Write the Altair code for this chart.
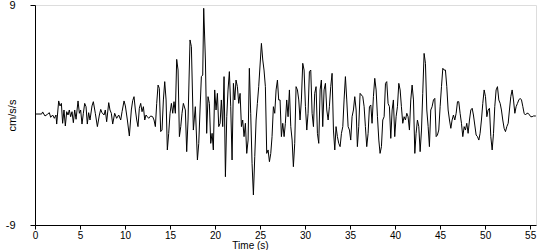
import altair as alt
import pandas as pd

time = [0.00, 0.74, 0.85, 1.11, 1.37, 1.59, 1.74, 1.96, 2.15, 2.33, 2.41, 2.63, 2.78, 2.93, 3.07, 3.22, 3.37, 3.52, 3.67, 3.81,
        3.96, 4.11, 4.26, 4.41, 4.56, 4.78, 4.93, 5.07, 5.22, 5.37, 5.52, 5.67, 5.81, 5.96, 6.11, 6.33, 6.48, 6.70, 6.93, 7.15,
        7.30, 7.44, 7.67, 7.81, 7.96, 8.19, 8.33, 8.48, 8.63, 8.85, 9.07, 9.30, 9.52, 9.67, 9.89, 10.04, 10.26, 10.48, 10.70, 10.85,
        11.00, 11.15, 11.30, 11.44, 11.59, 11.74, 11.89, 12.04, 12.19, 12.33, 12.48, 12.63, 12.85, 13.07, 13.22, 13.37, 13.52, 13.67, 13.81, 13.96,
        14.11, 14.26, 14.41, 14.56, 14.70, 14.85, 15.00, 15.15, 15.30, 15.44, 15.59, 15.74, 15.89, 16.04, 16.19, 16.33, 16.48, 16.70, 16.85, 17.00,
        17.22, 17.37, 17.59, 17.81, 18.04, 18.19, 18.33, 18.48, 18.63, 18.74, 18.93, 19.07, 19.22, 19.37, 19.52, 19.67, 19.81, 19.96, 20.11, 20.26,
        20.41, 20.56, 20.70, 20.85, 21.00, 21.15, 21.30, 21.44, 21.59, 21.74, 21.89, 22.04, 22.19, 22.33, 22.48, 22.63, 22.78, 22.93, 23.07, 23.22,
        23.37, 23.52, 23.67, 23.81, 23.96, 24.11, 24.26, 24.41, 24.56, 24.70, 24.85, 25.00, 25.15, 25.30, 25.44, 25.59, 25.74, 25.89, 26.04, 26.19,
        26.33, 26.48, 26.63, 26.78, 26.93, 27.07, 27.22, 27.37, 27.52, 27.67, 27.81, 27.96, 28.11, 28.26, 28.41, 28.56, 28.70, 28.85, 29.00, 29.15,
        29.30, 29.44, 29.59, 29.74, 29.89, 30.04, 30.19, 30.33, 30.48, 30.63, 30.78, 30.93, 31.07, 31.22, 31.37, 31.52, 31.67, 31.81, 31.96, 32.11,
        32.26, 32.41, 32.56, 32.70, 32.85, 33.00, 33.15, 33.30, 33.44, 33.59, 33.74, 33.89, 34.04, 34.19, 34.33, 34.48, 34.63, 34.78, 34.93, 35.07,
        35.22, 35.37, 35.52, 35.67, 35.81, 35.96, 36.11, 36.41, 36.56, 36.70, 36.85, 37.00, 37.15, 37.30, 37.44, 37.59, 37.74, 37.89, 38.04, 38.19,
        38.33, 38.48, 38.63, 38.78, 38.93, 39.07, 39.22, 39.37, 39.52, 39.67, 39.81, 39.96, 40.11, 40.26, 40.41, 40.56, 40.70, 40.85, 41.00, 41.15,
        41.30, 41.44, 41.59, 41.74, 41.89, 42.04, 42.19, 42.33, 42.48, 42.63, 42.78, 42.93, 43.07, 43.22, 43.37, 43.52, 43.67, 43.81, 43.96, 44.11,
        44.26, 44.41, 44.56, 44.70, 44.85, 45.00, 45.15, 45.30, 45.44, 45.59, 45.74, 45.89, 46.04, 46.19, 46.33, 46.48, 46.63, 46.78, 46.93, 47.07,
        47.22, 47.37, 47.52, 47.67, 47.81, 47.96, 48.11, 48.26, 48.41, 48.56, 48.70, 48.85, 49.00, 49.15, 49.30, 49.44, 49.59, 49.74, 49.89, 50.04,
        50.19, 50.33, 50.48, 50.63, 50.78, 50.93, 51.07, 51.22, 51.37, 51.52, 51.67, 51.81, 51.96, 52.11, 52.26, 52.41, 52.56, 52.70, 52.85, 53.00,
        53.15, 53.30, 53.44, 53.59, 53.74, 53.89, 54.04, 54.19, 54.33, 54.48, 54.63, 54.78, 54.93, 55.07, 55.22, 55.37, 55.63]

accel = [0.08, 0.08, 0.25, -0.08, 0.05, 0.19, -0.19, 0.00, -0.27, 0.00, -0.74, 1.15, 0.74, 0.95, -0.68, 0.41, -0.90, 0.27, 0.00, 0.41,
         -0.14, 0.27, -0.63, 0.41, -0.35, 1.15, 0.14, 0.41, -0.74, 0.14, 0.95, 0.68, -0.74, 0.19, -0.41, 0.74, 1.09, 0.14, -0.95, 0.00,
         0.46, 0.19, 0.00, 0.41, -0.55, 1.01, 0.41, 0.14, -0.74, 0.14, -0.27, 0.00, -0.41, 0.27, 1.15, 0.74, -0.41, -1.72, 0.41, 1.17,
         1.50, 0.41, -0.41, -0.95, 0.55, 0.95, 0.27, 0.68, -0.41, 0.00, -0.14, -0.27, -0.08, -0.14, -0.41, -0.95, 0.95, 2.45, 2.18, -1.36,
         -1.23, 1.23, 2.73, 1.23, -2.86, -1.50, 0.14, 0.95, 0.14, 1.09, 0.14, 4.55, 3.68, -1.77, -0.95, 0.14, 0.95, 0.41, -3.00, -0.41,
         6.14, 5.59, -1.23, 0.68, -3.68, -2.32, 0.41, 3.14, 3.27, 8.73, 4.50, -1.50, 1.50, 0.95, -2.32, -1.50, -2.86, 2.05, 0.41, 1.77,
         -0.95, -0.68, 1.23, -0.95, 3.14, -5.05, -0.14, 2.05, 3.55, 0.68, -3.68, 2.59, 1.23, 2.86, 2.32, 0.95, 1.77, -0.95, -0.41, -1.77,
         -0.68, -3.14, -2.05, 3.82, 0.14, -3.95, -6.54, -3.41, -0.41, 0.95, 2.32, 4.09, 5.86, 4.50, 3.68, 2.32, -3.14, -2.86, -3.82, -3.14,
         -1.77, 0.68, 0.14, 2.05, 2.86, 1.23, 1.23, -1.77, -0.68, -1.77, -0.68, 1.23, -0.14, 2.05, -0.95, -2.05, -4.23, -2.32, 2.32, 2.05,
         1.23, -0.41, 1.23, 4.23, 3.68, 0.68, -1.23, 0.14, 3.55, 3.68, 0.14, -0.95, 1.77, 2.32, -1.50, -2.32, 2.05, 2.86, -0.95, 2.05,
         2.59, 0.41, -0.41, 0.68, 2.32, 3.41, -1.23, -2.86, -0.95, -1.77, -2.32, -2.59, -1.50, -0.95, 1.23, 3.14, 1.23, -0.95, -1.23, -2.05,
         -0.14, 0.41, 1.50, 0.41, -2.59, -0.95, 1.77, 1.50, 0.68, -0.95, -2.59, -1.50, 0.68, 0.82, -0.68, 1.50, 3.00, 2.05, -0.14, -2.05,
         -3.14, -2.59, -0.41, -0.14, 2.59, 2.73, 0.95, 0.68, -1.91, 0.41, 1.23, -1.77, -0.14, 0.68, 2.59, 2.05, 0.68, -0.68, -0.14, -0.41,
         0.14, -0.14, -1.23, 1.23, 2.45, 1.23, -3.14, -1.50, -0.41, -0.95, -3.00, -1.23, 1.77, 5.04, 4.23, 0.41, -0.95, -2.59, 0.41, 0.68,
         1.23, 1.36, -1.77, -1.64, -1.23, 0.68, 2.32, 3.82, 3.68, 3.68, 2.32, 0.41, -0.41, -1.09, -0.41, 0.00, -0.41, 0.14, 1.09, 1.09,
         0.14, -0.68, -1.77, -0.95, -1.23, -0.68, -1.50, -0.41, 0.41, 0.55, 0.00, -0.82, -1.64, -1.77, -2.05, -1.50, -0.41, 0.95, 2.05, 1.50,
         -0.14, 0.41, 0.55, -1.77, -2.86, -1.50, 0.68, 2.05, 2.32, 1.23, 0.95, 0.41, -0.41, -1.09, -1.36, -0.95, -0.68, 0.41, 1.50, 2.05,
         1.23, 0.14, 0.68, 0.95, 1.23, 1.36, 1.23, 0.68, 0.14, 0.00, 0.14, 0.14, 0.00, -0.14, -0.14, -0.08, -0.08]

x_ticks = [0, 5, 10, 15, 20, 25, 30, 35, 40, 45, 50, 55]
y_ticks = [-9, 9]

df = pd.DataFrame({"t": time, "a": accel})

FONT = "Liberation Sans"

chart = alt.Chart(df).mark_line(color="black", strokeWidth=1).encode(
    x=alt.X("t:Q",
            scale=alt.Scale(domain=[0, 55.65], nice=False, zero=False),
            axis=alt.Axis(values=x_ticks, title="Time (s)", grid=False,
                          domainColor="black", tickColor="black", tickSize=4,
                          labelColor="black", labelFont=FONT, labelFontSize=10,
                          labelPadding=1, labelFlush=False,
                          titleFont=FONT, titleFontSize=10, titleFontWeight="normal",
                          titleColor="black", titleX=215, titleY=15,
                          titleAlign="center", titleBaseline="top")),
    y=alt.Y("a:Q",
            scale=alt.Scale(domain=[-9, 9], nice=False),
            axis=alt.Axis(values=y_ticks, title="cm/s/s", grid=False,
                          domainColor="black", tickColor="black", tickSize=5,
                          labelColor="black", labelFont=FONT, labelFontSize=11,
                          labelPadding=15, labelBaseline="middle",
                          labelExpr="datum.value < 0 ? '-' + abs(datum.value) : '' + datum.value",
                          titleFont=FONT, titleFontSize=11, titleFontWeight="normal",
                          titleColor="black", titleX=-23, titleY=110,
                          titleAlign="center", titleBaseline="middle")),
).properties(
    width=501, height=220,
    autosize=alt.AutoSizeParams(type="none"),
    padding={"left": 35, "top": 5, "right": 14, "bottom": 25},
).configure_view(stroke=None).configure(background="white")

chart.save("out.html", embed_options={"renderer": "svg", "actions": False})
